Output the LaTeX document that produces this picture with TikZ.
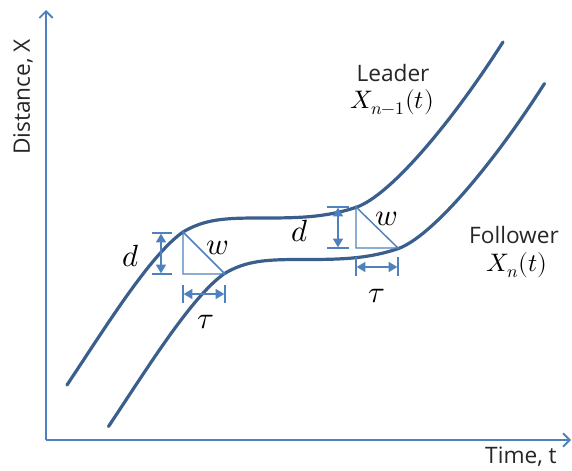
\documentclass[tikz,border=0pt]{standalone}
\usepackage{fontspec}
\setmainfont{Open Sans}
\usepackage{unicode-math}
\usetikzlibrary{arrows.meta}
\definecolor{axisblue}{RGB}{79,129,189}
\definecolor{curveblue}{RGB}{58,95,140}
\definecolor{markblue}{RGB}{79,129,189}
\tikzset{
  axisline/.style={draw=axisblue,line width=1.6pt,-{Straight Barb[length=5pt,width=10pt,line width=1.4pt]}},
  curveline/.style={draw=curveblue,line width=2.4pt,line cap=round},
  markline/.style={draw=markblue,line width=1.1pt},
  dimarrow/.style={draw=markblue,line width=1.1pt,{Triangle[length=6.5pt,width=7.5pt]}-{Triangle[length=6.5pt,width=7.5pt]},shorten <=0.5pt,shorten >=0.5pt},
  txt/.style={inner sep=0pt,font=\fontsize{17}{20}\selectfont,text=black!85},
  mathlbl/.style={inner sep=0pt,font=\fontsize{23}{25}\selectfont},
  fnlbl/.style={inner sep=0pt,font=\fontsize{19}{21}\selectfont},
  leaderpath/.style={insert path={(67,385) .. controls (105,328) and (150,255) .. (183,232)
     .. controls (205,219) and (225,218) .. (260,218)
     .. controls (295,218) and (325,218) .. (357,207)
     .. controls (390,195) and (450,125) .. (503,42)}},
}
\begin{document}
\begin{tikzpicture}[x=0.75pt,y=-0.75pt]
\useasboundingbox (0,0) rectangle (572,471);
% axes
\coordinate (O) at (46,440);
\coordinate (ytop) at (46,10);
\coordinate (xend) at (571,440);
\draw[axisline] (O) -- (ytop);
\draw[axisline] (O) -- (xend);
\node[txt,rotate=90] (ylab) at (23,97) {Distance, X};
\node[txt] (xlab) at (521,457) {Time, t};
% curves
\draw[curveline,leaderpath];
\begin{scope}[shift={(41.5,41.5)}]
\draw[curveline,leaderpath];
\end{scope}
% left triangle
\coordinate (LA) at (183,232);
\coordinate (LB) at (183,274);
\coordinate (LC) at (225,274);
\draw[markline] (LA) -- (LB) -- (LC) -- cycle;
\coordinate (Ld1) at (161,233);
\coordinate (Ld2) at (161,274);
\draw[markline] (152,233) -- (172,233);
\draw[markline] (152,274) -- (172,274);
\draw[dimarrow] (Ld1) -- (Ld2);
\coordinate (Lt1) at (183,294);
\coordinate (Lt2) at (225,294);
\draw[markline] (183,285) -- (183,303);
\draw[markline] (225,285) -- (225,303);
\draw[dimarrow] (Lt1) -- (Lt2);
\node[mathlbl] (Ldl) at (131,256) {$d$};
\node[mathlbl] (Lwl) at (218,248) {$w$};
\node[mathlbl] (Ltl) at (206,322) {$\tau$};
% right triangle
\coordinate (RA) at (356,207);
\coordinate (RB) at (356,248);
\coordinate (RC) at (398,248);
\draw[markline] (RA) -- (RB) -- (RC) -- cycle;
\coordinate (Rd1) at (338,207);
\coordinate (Rd2) at (338,248);
\draw[markline] (327,207) -- (349,207);
\draw[markline] (327,248) -- (349,248);
\draw[dimarrow] (Rd1) -- (Rd2);
\coordinate (Rt1) at (356,267);
\coordinate (Rt2) at (398,267);
\draw[markline] (356,257) -- (356,276);
\draw[markline] (398,257) -- (398,276);
\draw[dimarrow] (Rt1) -- (Rt2);
\node[mathlbl] (Rdl) at (300,231) {$d$};
\node[mathlbl] (Rwl) at (387,219) {$w$};
\node[mathlbl] (Rtl) at (377,296) {$\tau$};
% labels
\node[txt] (leader) at (393,73) {Leader};
\node[fnlbl] (leaderf) at (392,102) {$X_{n-1}(t)$};
\node[txt] (follower) at (514,235) {Follower};
\node[fnlbl] (followerf) at (517,265) {$X_n(t)$};
\end{tikzpicture}
\end{document}
